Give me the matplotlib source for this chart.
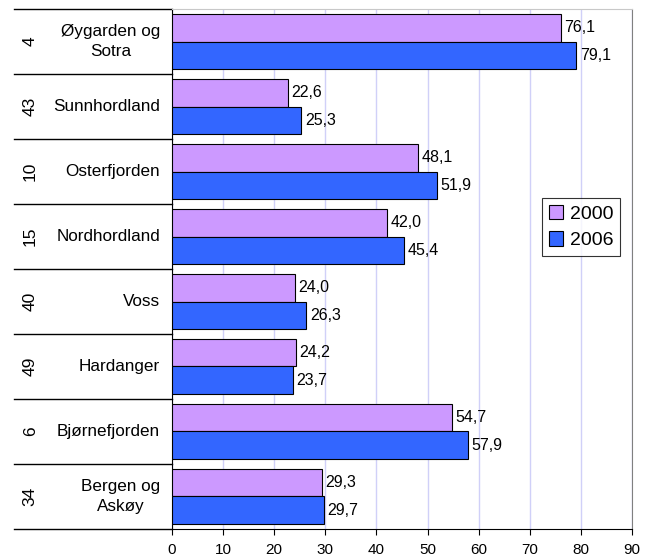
import matplotlib.pyplot as plt
import matplotlib.transforms as mtransforms
import numpy as np

plt.rcParams['font.family'] = ['Liberation Sans', 'DejaVu Sans']

koder = ['4', '43', '10', '15', '40', '49', '6', '34']
regioner = ['Øygarden og\nSotra', 'Sunnhordland', 'Osterfjorden', 'Nordhordland',
            'Voss', 'Hardanger', 'Bjørnefjorden', 'Bergen og\nAskøy']
verdi_2000 = [76.1, 22.6, 48.1, 42.0, 24.0, 24.2, 54.7, 29.3]
verdi_2006 = [79.1, 25.3, 51.9, 45.4, 26.3, 23.7, 57.9, 29.7]
x_ticks = [0, 10, 20, 30, 40, 50, 60, 70, 80, 90]

farge_2000 = '#CC99FF'
farge_2006 = '#3366FF'

fig = plt.figure(figsize=(6.5, 5.57), dpi=100)
ax = fig.add_axes([0.2646, 0.0503, 0.7077, 0.9335])

y = np.arange(len(regioner))
h = 0.43
b1 = ax.barh(y - h / 2, verdi_2000, height=h, color=farge_2000,
             edgecolor='black', linewidth=0.8, label='2000', zorder=3)
b2 = ax.barh(y + h / 2, verdi_2006, height=h, color=farge_2006,
             edgecolor='black', linewidth=0.8, label='2006', zorder=3)

for bars, vals in ((b1, verdi_2000), (b2, verdi_2006)):
    for bar, v in zip(bars, vals):
        ax.annotate(f'{v:.1f}'.replace('.', ','),
                    (v, bar.get_y() + bar.get_height() / 2),
                    xytext=(2.5, 0), textcoords='offset points',
                    ha='left', va='center', fontsize=11.5)

ax.set_xlim(0, 90)
ax.set_ylim(len(regioner) - 0.5, -0.5)
ax.set_xticks(x_ticks)
ax.tick_params(axis='x', labelsize=11, length=4, direction='out', pad=6)
ax.set_yticks([])
ax.grid(axis='x', color='#D0D0F8', linewidth=1, zorder=0)

ax.spines['left'].set_color('black')
ax.spines['bottom'].set_color('black')
ax.spines['top'].set_color('#C8C8C8')
ax.spines['right'].set_color('#808080')

# two-level category axis
trans = mtransforms.blended_transform_factory(ax.transAxes, ax.transData)
for i, (k, navn) in enumerate(zip(koder, regioner)):
    ax.text(-0.308, i, k, transform=trans, rotation=90, ha='center',
            va='center', fontsize=12.5)
    ax.text(-0.026, i, navn, transform=trans, ha='right', va='center',
            fontsize=12.3, multialignment='center', linespacing=1.45)
for g in np.arange(-0.5, len(regioner), 1.0):
    ax.plot([-0.343, 0], [g, g], transform=trans, color='black',
            linewidth=1, clip_on=False)

leg = ax.legend(loc='upper left', bbox_to_anchor=(0.804, 0.6365),
                fontsize=14, frameon=True, fancybox=False,
                edgecolor='black', handlelength=0.75, handleheight=0.75,
                handletextpad=0.35, borderpad=0.35, labelspacing=0.45,
                borderaxespad=0)
leg.get_frame().set_linewidth(0.8)

fig.savefig('out.png', dpi=100, facecolor='white')
